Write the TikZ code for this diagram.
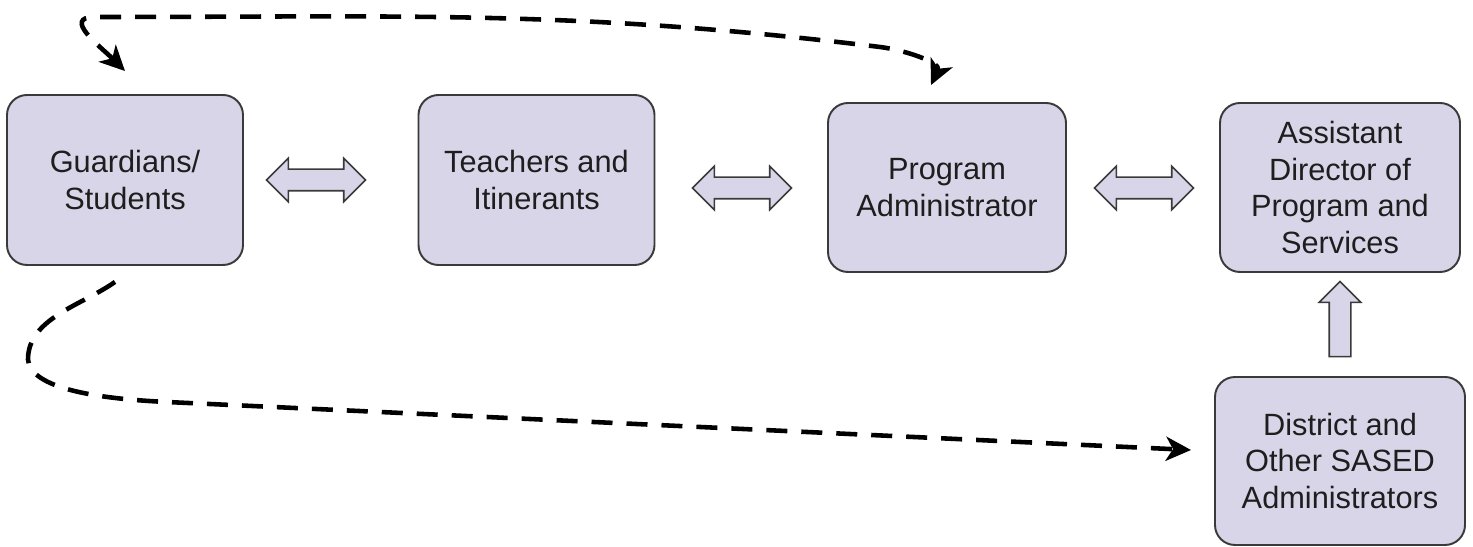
\documentclass[tikz,border=0pt]{standalone}
\usepackage{fontspec}
\setmainfont{Liberation Sans}
\usetikzlibrary{shapes.arrows,arrows.meta,calc}
\definecolor{boxfill}{HTML}{D9D5E8}
\definecolor{boxline}{HTML}{3A3A3A}
\definecolor{ink}{HTML}{1E1E1E}
\tikzset{
  role/.style={draw=boxline, fill=boxfill, line width=1.1pt, rounded corners=0.4cm,
    minimum width=4.72cm, minimum height=3.4cm, align=center, text=ink,
    font=\fontsize{17.5}{21}\selectfont},
  twoway/.style={double arrow, draw=boxline, fill=boxfill, line width=0.9pt,
    inner sep=0pt, inner ysep=0.2cm, minimum height=1.98cm, minimum width=0.84cm,
    double arrow head extend=0.22cm},
  oneway/.style={single arrow, draw=boxline, fill=boxfill, line width=0.9pt,
    inner sep=0pt, inner ysep=0.2cm, minimum height=1.5cm, minimum width=0.8cm,
    single arrow head extend=0.2cm, rotate=90},
  talk/.style={line width=2.6pt, dash pattern=on 0.42cm off 0.28cm,
    >={Stealth[length=0.5cm,width=0.48cm,inset=0.14cm]}}
}
\begin{document}
\begin{tikzpicture}
    \useasboundingbox (0,0) rectangle (29.46,10.94);
    \node[role] (guard) at (2.5,7.34) {Guardians/\\Students};
    \node[role] (teach) at (10.73,7.34) {Teachers and\\Itinerants};
    \node[role, minimum width=4.76cm, minimum height=3.38cm] (prog) at (18.94,7.19) {Program\\Administrator};
    \node[role, minimum width=4.8cm, minimum height=3.38cm] (asst) at (26.8,7.19) {Assistant\\Director of\\Program and\\Services};
    \node[role, minimum width=5cm, minimum height=3.36cm] (dist) at (26.8,1.72) {District and\\Other SASED\\Administrators};
    \node[twoway] (gt) at (6.32,7.34) {};
    \node[twoway] (tp) at (14.84,7.18) {};
    \node[twoway] (pa) at (22.88,7.18) {};
    \node[oneway] (da) at (26.8,4.45) {};
    \coordinate (gtop) at ($(guard.north)+(0,0.46)$);
    \coordinate (ptop) at ($(prog.north)+(-0.32,0.34)$);
    \coordinate (gbot) at ($(guard.south)+(-0.2,-0.32)$);
    \coordinate (dleft) at ($(dist.west)+(-0.46,0.22)$);
    \draw[talk,<->] (gtop) to[out=135,in=180,looseness=1.4] (1.9,10.6)
      to[out=0,in=173] (17.6,10.0) to[out=-7,in=65] (ptop);
    \draw[talk,->] (gbot) to[out=-145,in=90,looseness=0.9] (0.56,3.75)
      .. controls (0.6,3.25) and (1.6,2.98) .. (3.34,2.9) -- (dleft);
  \end{tikzpicture}
\end{document}
